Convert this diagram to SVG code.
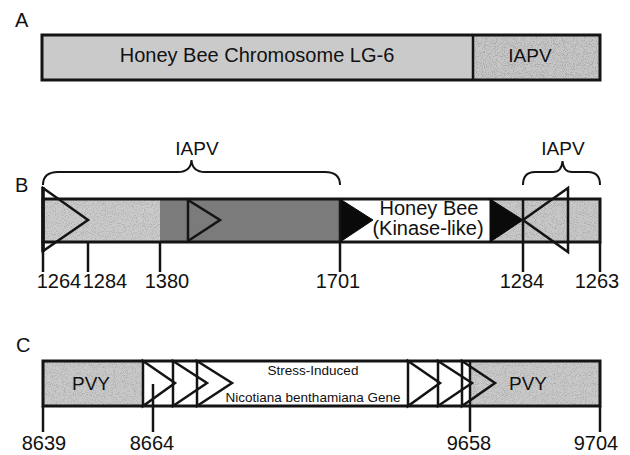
<svg xmlns="http://www.w3.org/2000/svg" width="630" height="455" viewBox="0 0 630 455">
<style>
text{font-family:"Liberation Sans",Arial,sans-serif;fill:#111}
.lbl{font-size:20px}
.num{font-size:20px;text-anchor:middle}
.mid{text-anchor:middle}
.out{fill:none;stroke:#141414;stroke-width:3}
.ln{fill:none;stroke:#141414;stroke-width:2.5}
.tri{fill:none;stroke:#141414;stroke-width:2.5;stroke-linejoin:miter}
.blk{fill:#0a0a0a;stroke:#0a0a0a;stroke-width:1}
.brace{fill:none;stroke:#141414;stroke-width:2}
.grain{filter:url(#grain)}
</style>
<defs>
<filter id="grain" x="0" y="0" width="1" height="1">
<feTurbulence type="fractalNoise" baseFrequency="1.1" numOctaves="1" seed="5" result="t"/>
<feColorMatrix in="t" type="matrix" values="0 0 0 0 0  0 0 0 0 0  0 0 0 0 0  2.2 0 0 0 -1.05" result="g"/>
<feComposite in="g" in2="SourceGraphic" operator="in"/>
</filter>
</defs>

<!-- Panel A -->
<text class="lbl" x="15" y="27">A</text>
<g id="a-chromosome">
<rect x="42" y="35" width="431" height="45" fill="#cacaca"/>
<text class="mid" x="257" y="62" font-size="20">Honey Bee Chromosome LG-6</text>
</g>
<g id="a-iapv">
<rect x="473" y="35" width="127" height="45" fill="#c6c6c6"/>
<rect class="grain" x="473" y="35" width="127" height="45" fill="#000" opacity="0.3"/>
<text class="mid" x="530" y="62" font-size="19">IAPV</text>
</g>
<rect class="out" x="42" y="35" width="558" height="45"/>
<line class="ln" x1="473" y1="35" x2="473" y2="80"/>

<!-- Panel B -->
<text class="lbl" x="15" y="192">B</text>
<g id="b-iapv-light">
<rect x="43" y="199" width="117" height="43" fill="#cbcbcb"/>
<rect class="grain" x="43" y="199" width="117" height="43" fill="#000" opacity="0.25"/>
</g>
<g id="b-iapv-dark">
<rect x="160" y="199" width="180" height="43" fill="#7b7b7b"/>
</g>
<g id="b-honeybee">
<rect x="340" y="199" width="150" height="43" fill="#ffffff"/>
<text class="mid" x="429" y="215" font-size="20">Honey Bee</text>
<text class="mid" x="428" y="235" font-size="20">(Kinase-like)</text>
</g>
<g id="b-iapv-right">
<rect x="490" y="199" width="110" height="43" fill="#c8c8c8"/>
<rect class="grain" x="490" y="199" width="110" height="43" fill="#000" opacity="0.25"/>
</g>
<rect class="out" x="43" y="199" width="557" height="43"/>
<g id="b-features">
<polygon class="tri" points="43,188 88,220 43,251"/>
<line x1="43" y1="187" x2="43" y2="252" stroke="#141414" stroke-width="3.5"/>
<polygon class="tri" points="188,200 220,220 188,241"/>
<polygon class="blk" points="340,199 373,220 340,242"/>
<polygon class="blk" points="490,199 523,220 490,242"/>
<polygon class="tri" points="568,188 523,220 568,252"/>
</g>
<text class="mid" x="197" y="155" font-size="19">IAPV</text>
<text class="mid" x="563" y="155" font-size="19">IAPV</text>
<text class="num" x="59" y="288">1264</text>
<text class="num" x="105" y="288">1284</text>
<text class="num" x="167" y="288">1380</text>
<text class="num" x="338" y="288">1701</text>
<text class="num" x="522" y="288">1284</text>
<text class="num" x="597" y="288">1263</text>

<!-- Panel C -->
<text class="lbl" x="16" y="352">C</text>
<g id="c-pvy-left">
<rect x="43" y="361" width="100" height="45" fill="#c9c9c9"/>
<rect class="grain" x="43" y="361" width="100" height="45" fill="#000" opacity="0.25"/>
<text class="mid" x="91" y="390" font-size="19">PVY</text>
</g>
<g id="c-gene">
<rect x="143" y="361" width="327" height="45" fill="#ffffff"/>
<text class="mid" x="313" y="375" font-size="13.5">Stress-Induced</text>
<text class="mid" x="313" y="402" font-size="13.5">Nicotiana benthamiana Gene</text>
</g>
<g id="c-pvy-right">
<rect x="470" y="361" width="130" height="45" fill="#c9c9c9"/>
<rect class="grain" x="470" y="361" width="130" height="45" fill="#000" opacity="0.25"/>
<text class="mid" x="528" y="390" font-size="19">PVY</text>
</g>
<rect class="out" x="43" y="361" width="557" height="45"/>
<g id="c-repeats">
<polygon class="tri" points="143,361 175,383 143,406"/>
<polygon class="tri" points="173,361 207,383 173,406"/>
<polygon class="tri" points="197,361 232,383 197,406"/>
<polygon class="tri" points="408,361 440,383 408,406"/>
<polygon class="tri" points="438,361 472,383 438,406"/>
<polygon class="tri" points="462,361 495,383 462,406"/>
</g>
<text class="num" x="44" y="450">8639</text>
<text class="num" x="152" y="450">8664</text>
<text class="num" x="469" y="450">9658</text>
<text class="num" x="596" y="450">9704</text>

<g id="connectors">
<path class="brace" d="M43,185 C43,176 48,172 58,172 L178,172 C186,172 191,168 191.5,160 C192,168 197,172 205,172 L325,172 C335,172 340,176 340,185"/>
<path class="brace" d="M523,185 C523,176 527,172 535,172 L553,172 C559,172 562,168 562.5,161 C563,168 566,172 572,172 L588,172 C596,172 600,176 600,185"/>
<line class="ln" x1="43" y1="242" x2="43" y2="272"/>
<line class="ln" x1="88" y1="242" x2="88" y2="272"/>
<line class="ln" x1="160" y1="242" x2="160" y2="272"/>
<line class="ln" x1="340" y1="199" x2="340" y2="272"/>
<line class="ln" x1="523" y1="199" x2="523" y2="272"/>
<line class="ln" x1="600" y1="242" x2="600" y2="272"/>
<line class="ln" x1="43" y1="406" x2="43" y2="432"/>
<line class="ln" x1="153" y1="384" x2="153" y2="432"/>
<line class="ln" x1="470" y1="361" x2="470" y2="432"/>
<line class="ln" x1="600" y1="406" x2="600" y2="432"/>
</g>
</svg>
